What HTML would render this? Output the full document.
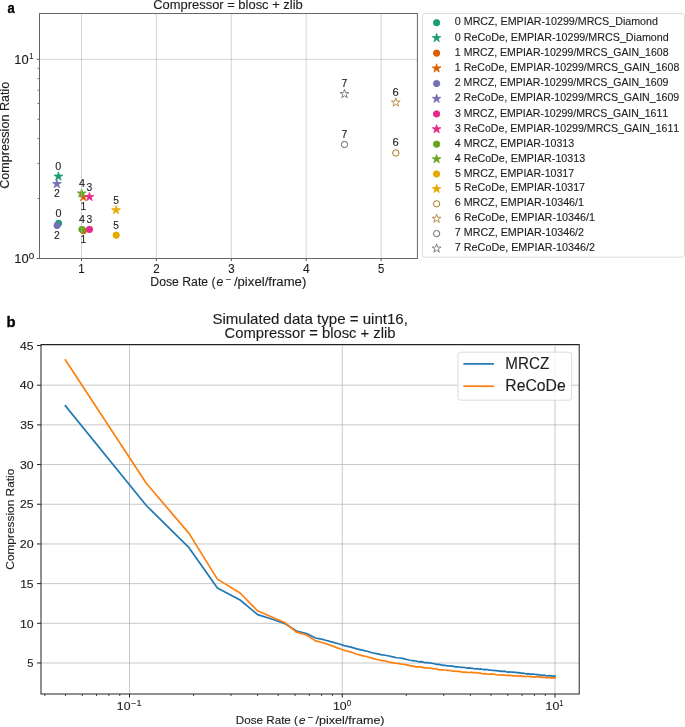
<!DOCTYPE html><html><head><meta charset="utf-8"><style>html,body{margin:0;padding:0;background:#fff;width:685px;height:727px;overflow:hidden}svg{display:block;will-change:transform}text{font-family:"Liberation Sans",sans-serif;font-kerning:none;white-space:pre;stroke:#222;stroke-width:0.12px;paint-order:stroke}</style></head><body>
<svg width="685" height="727" viewBox="0 0 685 727">
<rect width="685" height="727" fill="#fff"/>
<circle cx="58.6" cy="223.3" r="3.15" fill="#1b9e77" stroke="#1b9e77" stroke-width="1"/>
<polygon points="58.4,171.9 57.37,175.08 54.03,175.08 56.73,177.04 55.7,180.22 58.4,178.26 61.1,180.22 60.07,177.04 62.77,175.08 59.43,175.08" fill="#1b9e77" stroke="#1b9e77" stroke-width="0.8" stroke-linejoin="miter"/>
<circle cx="83.3" cy="230.7" r="3.15" fill="#d95f02" stroke="#d95f02" stroke-width="1"/>
<polygon points="83.2,192.4 82.17,195.58 78.83,195.58 81.53,197.54 80.5,200.72 83.2,198.76 85.9,200.72 84.87,197.54 87.57,195.58 84.23,195.58" fill="#d95f02" stroke="#d95f02" stroke-width="0.8" stroke-linejoin="miter"/>
<circle cx="57.1" cy="225.6" r="3.15" fill="#7570b3" stroke="#7570b3" stroke-width="1"/>
<polygon points="56.9,179.4 55.87,182.58 52.53,182.58 55.23,184.54 54.2,187.72 56.9,185.76 59.6,187.72 58.57,184.54 61.27,182.58 57.93,182.58" fill="#7570b3" stroke="#7570b3" stroke-width="0.8" stroke-linejoin="miter"/>
<circle cx="89.5" cy="229.4" r="3.15" fill="#e7298a" stroke="#e7298a" stroke-width="1"/>
<polygon points="89.45,192.3 88.42,195.48 85.08,195.48 87.78,197.44 86.75,200.62 89.45,198.66 92.15,200.62 91.12,197.44 93.82,195.48 90.48,195.48" fill="#e7298a" stroke="#e7298a" stroke-width="0.8" stroke-linejoin="miter"/>
<circle cx="81.9" cy="229.4" r="3.15" fill="#66a61e" stroke="#66a61e" stroke-width="1"/>
<polygon points="81.6,188.8 80.57,191.98 77.23,191.98 79.93,193.94 78.9,197.12 81.6,195.16 84.3,197.12 83.27,193.94 85.97,191.98 82.63,191.98" fill="#66a61e" stroke="#66a61e" stroke-width="0.8" stroke-linejoin="miter"/>
<circle cx="116.2" cy="235.2" r="3.15" fill="#e6ab02" stroke="#e6ab02" stroke-width="1"/>
<polygon points="116.05,205.5 115.02,208.68 111.68,208.68 114.38,210.64 113.35,213.82 116.05,211.86 118.75,213.82 117.72,210.64 120.42,208.68 117.08,208.68" fill="#e6ab02" stroke="#e6ab02" stroke-width="0.8" stroke-linejoin="miter"/>
<circle cx="395.8" cy="153" r="3.15" fill="none" stroke="#a6761d" stroke-width="1"/>
<polygon points="395.8,97.9 394.77,101.08 391.43,101.08 394.13,103.04 393.1,106.22 395.8,104.26 398.5,106.22 397.47,103.04 400.17,101.08 396.83,101.08" fill="none" stroke="#a6761d" stroke-width="0.8" stroke-linejoin="miter"/>
<circle cx="344.5" cy="144.5" r="3.15" fill="none" stroke="#666666" stroke-width="1"/>
<polygon points="344.5,89.4 343.47,92.58 340.13,92.58 342.83,94.54 341.8,97.72 344.5,95.76 347.2,97.72 346.17,94.54 348.87,92.58 345.53,92.58" fill="none" stroke="#666666" stroke-width="0.8" stroke-linejoin="miter"/>
<line x1="81.5" y1="13.5" x2="81.5" y2="258.5" stroke="#b0b0b0" stroke-opacity="0.55" stroke-width="1"/>
<line x1="156.4" y1="13.5" x2="156.4" y2="258.5" stroke="#b0b0b0" stroke-opacity="0.55" stroke-width="1"/>
<line x1="231.3" y1="13.5" x2="231.3" y2="258.5" stroke="#b0b0b0" stroke-opacity="0.55" stroke-width="1"/>
<line x1="306.2" y1="13.5" x2="306.2" y2="258.5" stroke="#b0b0b0" stroke-opacity="0.55" stroke-width="1"/>
<line x1="381.1" y1="13.5" x2="381.1" y2="258.5" stroke="#b0b0b0" stroke-opacity="0.55" stroke-width="1"/>
<line x1="39.5" y1="59.3" x2="417.4" y2="59.3" stroke="#b0b0b0" stroke-opacity="0.55" stroke-width="1"/>
<line x1="81.5" y1="258.5" x2="81.5" y2="261.1" stroke="#555" stroke-width="1"/>
<line x1="156.4" y1="258.5" x2="156.4" y2="261.1" stroke="#555" stroke-width="1"/>
<line x1="231.3" y1="258.5" x2="231.3" y2="261.1" stroke="#555" stroke-width="1"/>
<line x1="306.2" y1="258.5" x2="306.2" y2="261.1" stroke="#555" stroke-width="1"/>
<line x1="381.1" y1="258.5" x2="381.1" y2="261.1" stroke="#555" stroke-width="1"/>
<line x1="36.8" y1="258.5" x2="39.5" y2="258.5" stroke="#555" stroke-width="1"/>
<line x1="36.8" y1="59.3" x2="39.5" y2="59.3" stroke="#555" stroke-width="1"/>
<line x1="37.5" y1="198.53" x2="39.5" y2="198.53" stroke="#777" stroke-width="1"/>
<line x1="37.5" y1="163.46" x2="39.5" y2="163.46" stroke="#777" stroke-width="1"/>
<line x1="37.5" y1="138.57" x2="39.5" y2="138.57" stroke="#777" stroke-width="1"/>
<line x1="37.5" y1="119.27" x2="39.5" y2="119.27" stroke="#777" stroke-width="1"/>
<line x1="37.5" y1="103.49" x2="39.5" y2="103.49" stroke="#777" stroke-width="1"/>
<line x1="37.5" y1="90.16" x2="39.5" y2="90.16" stroke="#777" stroke-width="1"/>
<line x1="37.5" y1="78.6" x2="39.5" y2="78.6" stroke="#777" stroke-width="1"/>
<line x1="37.5" y1="68.41" x2="39.5" y2="68.41" stroke="#777" stroke-width="1"/>
<rect x="39.5" y="13.5" width="377.9" height="245" fill="none" stroke="#666" stroke-width="1"/>
<text transform="translate(78.16,272.7) scale(0.9588,1)" style="font-size:11.95px;" fill="#1c1c1c">1</text>
<text transform="translate(153.19,272.7) scale(0.9675,1)" style="font-size:11.95px;" fill="#1c1c1c">2</text>
<text transform="translate(228.13,272.7) scale(0.9639,1)" style="font-size:11.95px;" fill="#1c1c1c">3</text>
<text transform="translate(302.9,272.7) scale(1.0041,1)" style="font-size:11.95px;" fill="#1c1c1c">4</text>
<text transform="translate(377.96,272.7) scale(0.9476,1)" style="font-size:11.95px;" fill="#1c1c1c">5</text>
<text transform="translate(14.26,262.8) scale(1.0870,1)" style="font-size:11.95px;" fill="#1c1c1c">10</text>
<text transform="translate(28.76,258.6) scale(1.0942,1)" style="font-size:9.08px;" fill="#1c1c1c">0</text>
<text transform="translate(14.31,63.6) scale(1.0828,1)" style="font-size:11.95px;" fill="#1c1c1c">10</text>
<text transform="translate(29.22,59) scale(0.8428,1)" style="font-size:9.08px;" fill="#1c1c1c">1</text>
<text transform="translate(153.19,8.8) scale(1.0911,1)" style="font-size:11.87px;" fill="#1c1c1c">Compressor = blosc + zlib</text>
<text transform="translate(9.4,188.74) rotate(-90) scale(1.0547,1)" x="0" y="0" style="font-size:11.95px;" fill="#1c1c1c">Compression Ratio</text>
<text transform="translate(150.3,286) scale(1.0310,1)" style="font-size:11.87px;" fill="#1c1c1c">Dose Rate (</text>
<text transform="translate(216.5,286) scale(1.0300,1)" style="font-size:11.87px;font-style:italic;" fill="#1c1c1c">e</text>
<text transform="translate(225.75,281.67) scale(1.2271,1)" style="font-size:8.31px;" fill="#1c1c1c">−</text>
<text transform="translate(233.89,286) scale(1.1102,1)" style="font-size:11.87px;" fill="#1c1c1c">/pixel/frame)</text>
<text transform="translate(55.3,169.7) scale(1.0039,1)" style="font-size:10.75px;" fill="#1c1c1c">0</text>
<text transform="translate(54.01,196.6) scale(0.9675,1)" style="font-size:10.75px;" fill="#1c1c1c">2</text>
<text transform="translate(79.08,187.1) scale(1.0041,1)" style="font-size:10.75px;" fill="#1c1c1c">4</text>
<text transform="translate(86.5,191.1) scale(0.9639,1)" style="font-size:10.75px;" fill="#1c1c1c">3</text>
<text transform="translate(80.59,209.6) scale(0.9588,1)" style="font-size:10.75px;" fill="#1c1c1c">1</text>
<text transform="translate(113.33,203.8) scale(0.9476,1)" style="font-size:10.75px;" fill="#1c1c1c">5</text>
<text transform="translate(341.51,86.6) scale(0.9820,1)" style="font-size:10.75px;" fill="#1c1c1c">7</text>
<text transform="translate(392.51,95.6) scale(1.0391,1)" style="font-size:10.75px;" fill="#1c1c1c">6</text>
<text transform="translate(55.4,216.6) scale(1.0039,1)" style="font-size:10.75px;" fill="#1c1c1c">0</text>
<text transform="translate(53.96,238.6) scale(0.9675,1)" style="font-size:10.75px;" fill="#1c1c1c">2</text>
<text transform="translate(79.08,223.1) scale(1.0041,1)" style="font-size:10.75px;" fill="#1c1c1c">4</text>
<text transform="translate(86.5,223.1) scale(0.9639,1)" style="font-size:10.75px;" fill="#1c1c1c">3</text>
<text transform="translate(80.49,242.9) scale(0.9588,1)" style="font-size:10.75px;" fill="#1c1c1c">1</text>
<text transform="translate(113.33,229.1) scale(0.9476,1)" style="font-size:10.75px;" fill="#1c1c1c">5</text>
<text transform="translate(341.51,137.8) scale(0.9820,1)" style="font-size:10.75px;" fill="#1c1c1c">7</text>
<text transform="translate(392.51,146) scale(1.0391,1)" style="font-size:10.75px;" fill="#1c1c1c">6</text>
<rect x="422.5" y="13.5" width="262" height="243.7" rx="2.2" ry="2.2" fill="#fff" stroke="#dcdcdc" stroke-width="1"/>
<circle cx="436.6" cy="22.75" r="3.15" fill="#1b9e77" stroke="#1b9e77" stroke-width="1"/>
<text transform="translate(454.81,25.3) scale(0.9971,1)" style="font-size:10.73px;" fill="#1c1c1c">0 MRCZ, EMPIAR-10299/MRCS_Diamond</text>
<polygon points="436.6,33.35 435.57,36.53 432.23,36.53 434.93,38.49 433.9,41.67 436.6,39.71 439.3,41.67 438.27,38.49 440.97,36.53 437.63,36.53" fill="#1b9e77" stroke="#1b9e77" stroke-width="0.8" stroke-linejoin="miter"/>
<text transform="translate(454.8,40.5) scale(1.0009,1)" style="font-size:10.73px;" fill="#1c1c1c">0 ReCoDe, EMPIAR-10299/MRCS_Diamond</text>
<circle cx="436.6" cy="53.15" r="3.15" fill="#d95f02" stroke="#d95f02" stroke-width="1"/>
<text transform="translate(454.87,55.7) scale(0.9851,1)" style="font-size:10.73px;" fill="#1c1c1c">1 MRCZ, EMPIAR-10299/MRCS_GAIN_1608</text>
<polygon points="436.6,63.75 435.57,66.93 432.23,66.93 434.93,68.89 433.9,72.07 436.6,70.11 439.3,72.07 438.27,68.89 440.97,66.93 437.63,66.93" fill="#d95f02" stroke="#d95f02" stroke-width="0.8" stroke-linejoin="miter"/>
<text transform="translate(454.86,70.9) scale(0.9892,1)" style="font-size:10.73px;" fill="#1c1c1c">1 ReCoDe, EMPIAR-10299/MRCS_GAIN_1608</text>
<circle cx="436.6" cy="83.55" r="3.15" fill="#7570b3" stroke="#7570b3" stroke-width="1"/>
<text transform="translate(454.77,86.1) scale(0.9856,1)" style="font-size:10.73px;" fill="#1c1c1c">2 MRCZ, EMPIAR-10299/MRCS_GAIN_1609</text>
<polygon points="436.6,94.15 435.57,97.33 432.23,97.33 434.93,99.29 433.9,102.47 436.6,100.51 439.3,102.47 438.27,99.29 440.97,97.33 437.63,97.33" fill="#7570b3" stroke="#7570b3" stroke-width="0.8" stroke-linejoin="miter"/>
<text transform="translate(454.76,101.3) scale(0.9897,1)" style="font-size:10.73px;" fill="#1c1c1c">2 ReCoDe, EMPIAR-10299/MRCS_GAIN_1609</text>
<circle cx="436.6" cy="113.95" r="3.15" fill="#e7298a" stroke="#e7298a" stroke-width="1"/>
<text transform="translate(454.93,116.5) scale(0.9839,1)" style="font-size:10.73px;" fill="#1c1c1c">3 MRCZ, EMPIAR-10299/MRCS_GAIN_1611</text>
<polygon points="436.6,124.55 435.57,127.73 432.23,127.73 434.93,129.69 433.9,132.87 436.6,130.91 439.3,132.87 438.27,129.69 440.97,127.73 437.63,127.73" fill="#e7298a" stroke="#e7298a" stroke-width="0.8" stroke-linejoin="miter"/>
<text transform="translate(454.93,131.7) scale(0.9881,1)" style="font-size:10.73px;" fill="#1c1c1c">3 ReCoDe, EMPIAR-10299/MRCS_GAIN_1611</text>
<circle cx="436.6" cy="144.2" r="3.15" fill="#66a61e" stroke="#66a61e" stroke-width="1"/>
<text transform="translate(454.81,146.75) scale(0.9922,1)" style="font-size:10.73px;" fill="#1c1c1c">4 MRCZ, EMPIAR-10313</text>
<polygon points="436.6,154.5 435.57,157.68 432.23,157.68 434.93,159.64 433.9,162.82 436.6,160.86 439.3,162.82 438.27,159.64 440.97,157.68 437.63,157.68" fill="#66a61e" stroke="#66a61e" stroke-width="0.8" stroke-linejoin="miter"/>
<text transform="translate(454.8,161.65) scale(0.9987,1)" style="font-size:10.73px;" fill="#1c1c1c">4 ReCoDe, EMPIAR-10313</text>
<circle cx="436.6" cy="174" r="3.15" fill="#e6ab02" stroke="#e6ab02" stroke-width="1"/>
<text transform="translate(454.91,176.55) scale(0.9914,1)" style="font-size:10.73px;" fill="#1c1c1c">5 MRCZ, EMPIAR-10317</text>
<polygon points="436.6,184.3 435.57,187.48 432.23,187.48 434.93,189.44 433.9,192.62 436.6,190.66 439.3,192.62 438.27,189.44 440.97,187.48 437.63,187.48" fill="#e6ab02" stroke="#e6ab02" stroke-width="0.8" stroke-linejoin="miter"/>
<text transform="translate(454.91,191.45) scale(0.9980,1)" style="font-size:10.73px;" fill="#1c1c1c">5 ReCoDe, EMPIAR-10317</text>
<circle cx="436.6" cy="203.8" r="3.15" fill="none" stroke="#a6761d" stroke-width="1"/>
<text transform="translate(454.72,206.35) scale(1.0006,1)" style="font-size:10.73px;" fill="#1c1c1c">6 MRCZ, EMPIAR-10346/1</text>
<polygon points="436.6,214.1 435.57,217.28 432.23,217.28 434.93,219.24 433.9,222.42 436.6,220.46 439.3,222.42 438.27,219.24 440.97,217.28 437.63,217.28" fill="none" stroke="#a6761d" stroke-width="0.8" stroke-linejoin="miter"/>
<text transform="translate(454.72,221.25) scale(1.0061,1)" style="font-size:10.73px;" fill="#1c1c1c">6 ReCoDe, EMPIAR-10346/1</text>
<circle cx="436.6" cy="233.6" r="3.15" fill="none" stroke="#666666" stroke-width="1"/>
<text transform="translate(454.84,236.15) scale(0.9991,1)" style="font-size:10.73px;" fill="#1c1c1c">7 MRCZ, EMPIAR-10346/2</text>
<polygon points="436.6,243.9 435.57,247.08 432.23,247.08 434.93,249.04 433.9,252.22 436.6,250.26 439.3,252.22 438.27,249.04 440.97,247.08 437.63,247.08" fill="none" stroke="#666666" stroke-width="0.8" stroke-linejoin="miter"/>
<text transform="translate(454.84,251.05) scale(1.0048,1)" style="font-size:10.73px;" fill="#1c1c1c">7 ReCoDe, EMPIAR-10346/2</text>
<line x1="129.5" y1="344.5" x2="129.5" y2="694" stroke="#b0b0b0" stroke-opacity="0.7" stroke-width="1"/>
<line x1="342.25" y1="344.5" x2="342.25" y2="694" stroke="#b0b0b0" stroke-opacity="0.7" stroke-width="1"/>
<line x1="555" y1="344.5" x2="555" y2="694" stroke="#b0b0b0" stroke-opacity="0.7" stroke-width="1"/>
<line x1="41" y1="663" x2="579.2" y2="663" stroke="#b0b0b0" stroke-opacity="0.7" stroke-width="1"/>
<line x1="41" y1="623.31" x2="579.2" y2="623.31" stroke="#b0b0b0" stroke-opacity="0.7" stroke-width="1"/>
<line x1="41" y1="583.62" x2="579.2" y2="583.62" stroke="#b0b0b0" stroke-opacity="0.7" stroke-width="1"/>
<line x1="41" y1="543.94" x2="579.2" y2="543.94" stroke="#b0b0b0" stroke-opacity="0.7" stroke-width="1"/>
<line x1="41" y1="504.25" x2="579.2" y2="504.25" stroke="#b0b0b0" stroke-opacity="0.7" stroke-width="1"/>
<line x1="41" y1="464.56" x2="579.2" y2="464.56" stroke="#b0b0b0" stroke-opacity="0.7" stroke-width="1"/>
<line x1="41" y1="424.88" x2="579.2" y2="424.88" stroke="#b0b0b0" stroke-opacity="0.7" stroke-width="1"/>
<line x1="41" y1="385.19" x2="579.2" y2="385.19" stroke="#b0b0b0" stroke-opacity="0.7" stroke-width="1"/>
<line x1="41" y1="345.5" x2="579.2" y2="345.5" stroke="#b0b0b0" stroke-opacity="0.7" stroke-width="1"/>
<line x1="129.5" y1="694" x2="129.5" y2="697.5" stroke="#222" stroke-width="1"/>
<line x1="342.25" y1="694" x2="342.25" y2="697.5" stroke="#222" stroke-width="1"/>
<line x1="555" y1="694" x2="555" y2="697.5" stroke="#222" stroke-width="1"/>
<line x1="44.84" y1="694" x2="44.84" y2="696" stroke="#444" stroke-width="1"/>
<line x1="65.46" y1="694" x2="65.46" y2="696" stroke="#444" stroke-width="1"/>
<line x1="82.3" y1="694" x2="82.3" y2="696" stroke="#444" stroke-width="1"/>
<line x1="96.54" y1="694" x2="96.54" y2="696" stroke="#444" stroke-width="1"/>
<line x1="108.88" y1="694" x2="108.88" y2="696" stroke="#444" stroke-width="1"/>
<line x1="119.77" y1="694" x2="119.77" y2="696" stroke="#444" stroke-width="1"/>
<line x1="193.54" y1="694" x2="193.54" y2="696" stroke="#444" stroke-width="1"/>
<line x1="231.01" y1="694" x2="231.01" y2="696" stroke="#444" stroke-width="1"/>
<line x1="257.59" y1="694" x2="257.59" y2="696" stroke="#444" stroke-width="1"/>
<line x1="278.21" y1="694" x2="278.21" y2="696" stroke="#444" stroke-width="1"/>
<line x1="295.05" y1="694" x2="295.05" y2="696" stroke="#444" stroke-width="1"/>
<line x1="309.29" y1="694" x2="309.29" y2="696" stroke="#444" stroke-width="1"/>
<line x1="321.63" y1="694" x2="321.63" y2="696" stroke="#444" stroke-width="1"/>
<line x1="332.52" y1="694" x2="332.52" y2="696" stroke="#444" stroke-width="1"/>
<line x1="406.29" y1="694" x2="406.29" y2="696" stroke="#444" stroke-width="1"/>
<line x1="443.76" y1="694" x2="443.76" y2="696" stroke="#444" stroke-width="1"/>
<line x1="470.34" y1="694" x2="470.34" y2="696" stroke="#444" stroke-width="1"/>
<line x1="490.96" y1="694" x2="490.96" y2="696" stroke="#444" stroke-width="1"/>
<line x1="507.8" y1="694" x2="507.8" y2="696" stroke="#444" stroke-width="1"/>
<line x1="522.04" y1="694" x2="522.04" y2="696" stroke="#444" stroke-width="1"/>
<line x1="534.38" y1="694" x2="534.38" y2="696" stroke="#444" stroke-width="1"/>
<line x1="545.27" y1="694" x2="545.27" y2="696" stroke="#444" stroke-width="1"/>
<line x1="37" y1="663" x2="41" y2="663" stroke="#222" stroke-width="1"/>
<line x1="37" y1="623.31" x2="41" y2="623.31" stroke="#222" stroke-width="1"/>
<line x1="37" y1="583.62" x2="41" y2="583.62" stroke="#222" stroke-width="1"/>
<line x1="37" y1="543.94" x2="41" y2="543.94" stroke="#222" stroke-width="1"/>
<line x1="37" y1="504.25" x2="41" y2="504.25" stroke="#222" stroke-width="1"/>
<line x1="37" y1="464.56" x2="41" y2="464.56" stroke="#222" stroke-width="1"/>
<line x1="37" y1="424.88" x2="41" y2="424.88" stroke="#222" stroke-width="1"/>
<line x1="37" y1="385.19" x2="41" y2="385.19" stroke="#222" stroke-width="1"/>
<line x1="37" y1="345.5" x2="41" y2="345.5" stroke="#222" stroke-width="1"/>
<polyline points="65.4,405.8 146.3,505.5 189,547.7 217.4,587.9 240.1,600 257.6,614.6 272.35,619.3 285.2,623.7 296.4,631 306.5,633.5 315.5,638 323.8,639.7 331.48,641.82 338.48,643.75 344.98,645.86 351.06,647.08 356.76,648.83 362.13,650.11 367.2,651.23 372.01,652.74 376.58,653.64 380.94,654.69 385.1,655.23 389.08,655.97 392.89,656.86 396.56,657.77 400.08,657.98 403.48,658.66 406.75,659.5 409.92,660.26 412.98,660.6 415.94,660.99 418.8,661.78 421.59,661.64 424.29,662.54 426.91,662.59 429.46,662.89 431.95,663.25 434.36,663.73 436.72,664.39 439.02,664.36 441.26,664.94 443.45,665.3 445.59,665.46 447.68,665.88 449.72,665.9 451.72,666.1 453.68,666.38 455.59,666.84 457.47,666.87 459.31,666.98 461.12,667.32 462.88,667.41 464.62,667.48 466.33,667.94 468,668.05 469.64,667.93 471.26,668.28 472.84,668.41 474.41,668.77 475.94,668.83 477.45,668.71 478.93,669.26 480.4,668.89 481.83,669.21 483.25,669.54 484.65,669.32 486.02,669.65 487.38,669.51 488.71,670.02 490.03,670.2 491.32,670.21 492.6,670.51 493.87,670.3 495.11,670.65 496.34,670.7 497.55,670.81 498.75,670.86 499.93,671.2 501.1,671.38 502.25,671.21 503.39,671.44 504.51,671.19 505.62,671.68 506.72,671.76 507.8,672.07 508.87,672.08 509.93,671.86 510.98,672.02 512.02,672.29 513.04,672.01 514.05,672.37 515.06,672.29 516.05,672.36 517.03,672.42 518,672.95 518.96,672.66 519.91,672.82 520.85,673 521.78,673.38 522.7,673 523.62,673.31 524.52,673.46 525.41,673.75 526.3,673.8 527.18,673.91 528.05,673.64 528.91,673.81 529.76,673.86 530.61,674.26 531.45,674.39 532.28,673.99 533.1,674.08 533.92,674.2 534.73,674.28 535.53,674.51 536.33,674.65 537.11,674.53 537.9,674.45 538.67,674.78 539.44,674.82 540.2,675.02 540.96,675.32 541.71,675.24 542.45,675.21 543.19,675.34 543.92,675.45 544.65,675.15 545.37,675.73 546.08,675.73 546.79,675.85 547.5,675.88 548.2,675.7 548.89,675.78 549.58,675.67 550.26,676.05 550.94,675.78 551.61,675.85 552.28,676 552.94,676.03 553.6,676.21 554.26,676.1 554.91,676.1" fill="none" stroke="#1f77b4" stroke-width="1.7" stroke-linejoin="round" stroke-linecap="square"/>
<polyline points="65.4,359.9 146.3,483.3 189,533.4 217.4,579.1 240.1,593 257.6,610.8 272.35,617.3 285.2,622.8 296.4,632.1 306.5,635 315.5,640.9 323.8,643 331.48,645.64 338.48,648.21 344.98,650.55 351.06,652.07 356.76,654.2 362.13,655.57 367.2,656.73 372.01,658.16 376.58,659.52 380.94,660.35 385.1,660.96 389.08,662.12 392.89,662.9 396.56,663.25 400.08,663.9 403.48,664.28 406.75,664.88 409.92,665.6 412.98,666.11 415.94,666.91 418.8,666.83 421.59,667.06 424.29,667.92 426.91,667.96 429.46,668.01 431.95,668.53 434.36,668.49 436.72,669.05 439.02,669.58 441.26,669.78 443.45,669.97 445.59,669.98 447.68,670.32 449.72,670.46 451.72,671.01 453.68,671.03 455.59,671.34 457.47,671.23 459.31,671.33 461.12,671.83 462.88,672.09 464.62,672.16 466.33,672.28 468,672.43 469.64,672.52 471.26,672.35 472.84,672.66 474.41,672.69 475.94,672.63 477.45,672.76 478.93,673.04 480.4,673.15 481.83,673.53 483.25,673.81 484.65,673.62 486.02,674.03 487.38,674.18 488.71,674.27 490.03,674.03 491.32,674.06 492.6,674.17 493.87,674.26 495.11,674.37 496.34,674.73 497.55,674.98 498.75,675.01 499.93,674.86 501.1,675.03 502.25,675.19 503.39,674.82 504.51,675.23 505.62,675.44 506.72,675.43 507.8,675.47 508.87,675.37 509.93,675.25 510.98,675.68 512.02,675.46 513.04,675.8 514.05,675.96 515.06,675.68 516.05,675.74 517.03,676.12 518,676.04 518.96,675.76 519.91,675.79 520.85,675.86 521.78,676.37 522.7,676.36 523.62,676.02 524.52,676.48 525.41,676.62 526.3,676.48 527.18,676.34 528.05,676.51 528.91,676.31 529.76,676.29 530.61,676.91 531.45,676.77 532.28,676.74 533.1,677.03 533.92,676.78 534.73,677.09 535.53,677.11 536.33,676.78 537.11,676.85 537.9,676.92 538.67,676.93 539.44,677.18 540.2,677.03 540.96,677.17 541.71,677.04 542.45,677.55 543.19,677.26 543.92,677.36 544.65,677.48 545.37,677.71 546.08,677.47 546.79,677.8 547.5,677.59 548.2,677.65 548.89,677.69 549.58,677.42 550.26,677.72 550.94,677.6 551.61,677.53 552.28,678.05 552.94,677.71 553.6,677.93 554.26,678.12 554.91,678.03" fill="none" stroke="#ff7f0e" stroke-width="1.7" stroke-linejoin="round" stroke-linecap="square"/>
<rect x="41" y="344.5" width="538.2" height="349.5" fill="none" stroke="#222" stroke-width="1"/>
<text transform="translate(27.37,667.2) scale(0.9476,1)" style="font-size:11.76px;" fill="#1c1c1c">5</text>
<text transform="translate(19.88,627.51) scale(1.0471,1)" style="font-size:11.76px;" fill="#1c1c1c">10</text>
<text transform="translate(20.13,587.83) scale(1.0301,1)" style="font-size:11.76px;" fill="#1c1c1c">15</text>
<text transform="translate(19.79,548.14) scale(1.0546,1)" style="font-size:11.76px;" fill="#1c1c1c">20</text>
<text transform="translate(20.03,508.45) scale(1.0381,1)" style="font-size:11.76px;" fill="#1c1c1c">25</text>
<text transform="translate(19.98,468.76) scale(1.0395,1)" style="font-size:11.76px;" fill="#1c1c1c">30</text>
<text transform="translate(20.22,429.07) scale(1.0231,1)" style="font-size:11.76px;" fill="#1c1c1c">35</text>
<text transform="translate(19.86,389.39) scale(1.0493,1)" style="font-size:11.76px;" fill="#1c1c1c">40</text>
<text transform="translate(20.1,349.7) scale(1.0332,1)" style="font-size:11.76px;" fill="#1c1c1c">45</text>
<text transform="translate(116.87,709.9) scale(1.0405,1)" style="font-size:11.76px;" fill="#1c1c1c">10</text>
<text transform="translate(131.16,705.6) scale(1.0959,1)" style="font-size:8.23px;" fill="#1c1c1c">−1</text>
<text transform="translate(332.96,709.9) scale(1.0490,1)" style="font-size:11.76px;" fill="#1c1c1c">10</text>
<text transform="translate(346.79,705.6) scale(0.9657,1)" style="font-size:8.23px;" fill="#1c1c1c">0</text>
<text transform="translate(545.56,709.9) scale(1.0490,1)" style="font-size:11.76px;" fill="#1c1c1c">10</text>
<text transform="translate(559.33,705.6) scale(0.9016,1)" style="font-size:8.23px;" fill="#1c1c1c">1</text>
<text transform="translate(212.42,323.9) scale(1.0768,1)" style="font-size:14px;" fill="#1c1c1c">Simulated data type = uint16,</text>
<text transform="translate(224.55,337.9) scale(1.0573,1)" style="font-size:14px;" fill="#1c1c1c">Compressor = blosc + zlib</text>
<text transform="translate(13.8,569.7) rotate(-90) scale(1.0474,1)" x="0" y="0" style="font-size:11.34px;" fill="#1c1c1c">Compression Ratio</text>
<text transform="translate(235.84,724) scale(1.0310,1)" style="font-size:11.31px;" fill="#1c1c1c">Dose Rate (</text>
<text transform="translate(298.95,724) scale(1.0300,1)" style="font-size:11.31px;font-style:italic;" fill="#1c1c1c">e</text>
<text transform="translate(307.76,719.88) scale(1.2271,1)" style="font-size:7.92px;" fill="#1c1c1c">−</text>
<text transform="translate(315.52,724) scale(1.1102,1)" style="font-size:11.31px;" fill="#1c1c1c">/pixel/frame)</text>
<rect x="457.9" y="352.2" width="113.8" height="48" rx="2.8" ry="2.8" fill="#fff" fill-opacity="0.8" stroke="#dcdcdc" stroke-width="1"/>
<line x1="463.4" y1="363.9" x2="493.9" y2="363.9" stroke="#1f77b4" stroke-width="1.7"/>
<line x1="463.4" y1="386.2" x2="493.9" y2="386.2" stroke="#ff7f0e" stroke-width="1.7"/>
<text transform="translate(505.35,369.3) scale(0.9427,1)" style="font-size:16.13px;" fill="#1c1c1c">MRCZ</text>
<text transform="translate(505.31,391) scale(0.9778,1)" style="font-size:16.13px;" fill="#1c1c1c">ReCoDe</text>
<text transform="translate(7.57,12.8) scale(0.8782,1)" style="font-size:14.8px;font-weight:bold;stroke:#000;stroke-width:0.3px;stroke-linejoin:round;" fill="#000">a</text>
<text transform="translate(6.42,326.9) scale(0.9922,1)" style="font-size:15px;font-weight:bold;stroke:#000;stroke-width:0.3px;stroke-linejoin:round;" fill="#000">b</text>
</svg></body></html>
